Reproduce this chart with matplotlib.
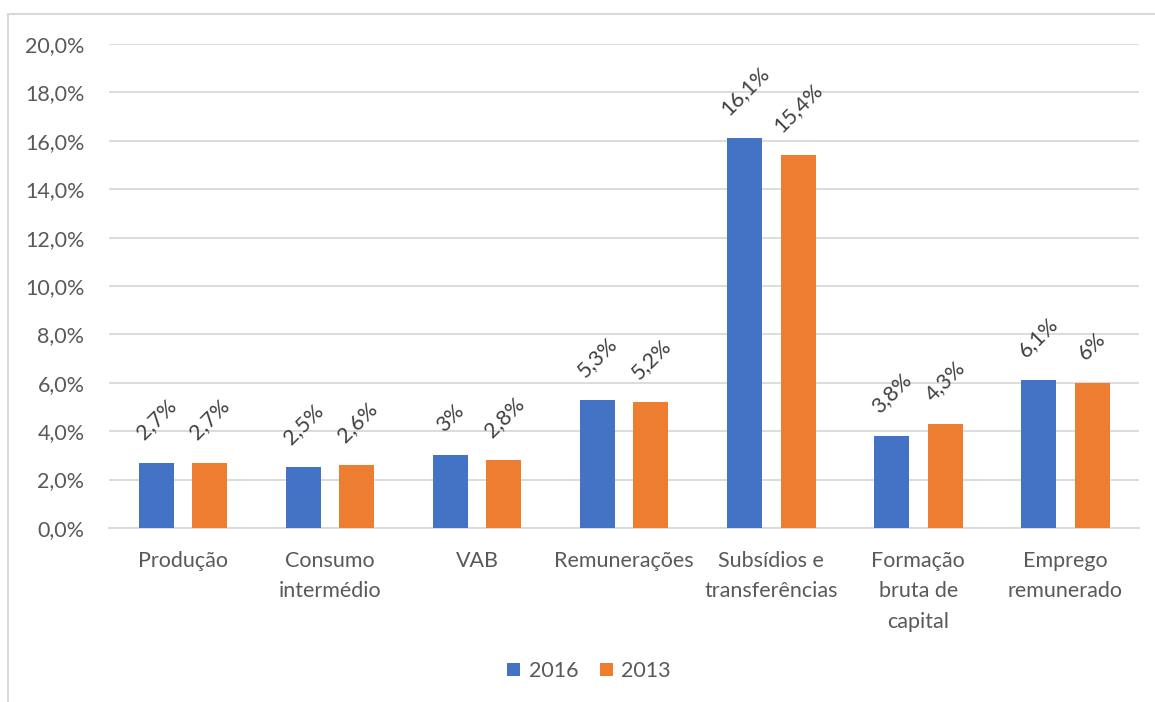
import matplotlib
matplotlib.use("Agg")
import matplotlib.pyplot as plt
from matplotlib.patches import Rectangle
from matplotlib.ticker import FuncFormatter
import numpy as np

# data
categories = ["Produção", "Consumo\nintermédio", "VAB", "Remunerações",
              "Subsídios e\ntransferências", "Formação\nbruta de\ncapital",
              "Emprego\nremunerado"]
vals_2016 = [2.7, 2.5, 3.0, 5.3, 16.1, 3.8, 6.1]
vals_2013 = [2.7, 2.6, 2.8, 5.2, 15.4, 4.3, 6.0]
series_names = ["2016", "2013"]

BLUE = "#4472C4"
ORANGE = "#ED7D31"
GREY_TXT = "#595959"
GRID = "#D9D9D9"
FS = 15.5

plt.rcParams["font.family"] = ["Lato", "DejaVu Sans"]

fig = plt.figure(figsize=(11.55, 7.02), dpi=100)
ax = fig.add_axes([0.0948, 0.2479, 0.8913, 0.6894])

# chart border (only top/left visible in the reference)
fig.patches.append(Rectangle((8 / 1155, -0.05), 1.2, 1 - 14 / 702 + 0.05,
                             transform=fig.transFigure, fill=False,
                             edgecolor=GRID, linewidth=1.5))

x = np.arange(len(categories))
w = 0.238
off = 0.182
b1 = ax.bar(x - off, vals_2016, w, color=BLUE, label=series_names[0], zorder=3)
b2 = ax.bar(x + off, vals_2013, w, color=ORANGE, label=series_names[1], zorder=3)


def pct(v):
    return f"{v:g}".replace(".", ",") + "%"


for bars, vals in ((b1, vals_2016), (b2, vals_2013)):
    for r, v in zip(bars, vals):
        ax.annotate(pct(v), (r.get_x() + r.get_width() / 2, v),
                    xytext=(0, 14), textcoords="offset points",
                    ha="center", va="bottom", rotation=45,
                    fontsize=FS, color="#404040")

ax.set_xlim(-0.5, len(categories) - 0.5)
ax.set_ylim(0, 20)
ax.set_yticks(np.arange(0, 21, 2))
ax.yaxis.set_major_formatter(FuncFormatter(lambda v, p: f"{v:.1f}".replace(".", ",") + "%"))
ax.set_xticks(x)
ax.set_xticklabels(categories, linespacing=1.66)
ax.tick_params(axis="both", length=0, labelsize=FS, colors=GREY_TXT)
ax.tick_params(axis="x", pad=16.5)
ax.tick_params(axis="y", pad=18)

ax.grid(axis="y", color=GRID, linewidth=1.3, zorder=0)
for s in ("top", "right", "left"):
    ax.spines[s].set_visible(False)
ax.spines["bottom"].set_color(GRID)
ax.spines["bottom"].set_linewidth(1.3)

ax.legend(loc="center", bbox_to_anchor=(0.51, 1 - 671 / 702), bbox_transform=fig.transFigure,
          ncol=2, frameon=False, fontsize=FS, labelcolor=GREY_TXT,
          handlelength=0.6, handleheight=0.6, handletextpad=0.4, columnspacing=1.0)

fig.savefig("out.png", dpi=100, facecolor="white")
